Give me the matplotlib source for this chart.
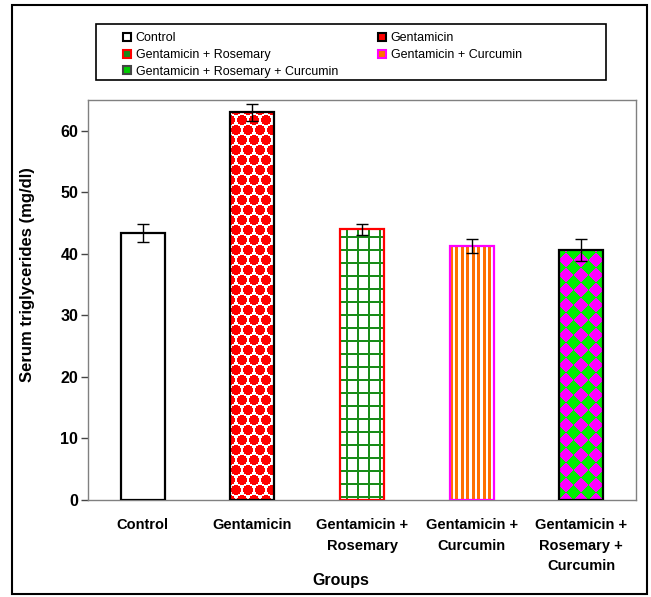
import matplotlib
matplotlib.use("Agg")
import matplotlib.pyplot as plt
from matplotlib.patches import Patch, Rectangle
import numpy as np

groups = ["Control", "Gentamicin", "Gentamicin + Rosemary",
          "Gentamicin + Curcumin", "Gentamicin + Rosemary + Curcumin"]
tick_labels = ["Control", "Gentamicin", "Gentamicin +\nRosemary",
               "Gentamicin +\nCurcumin", "Gentamicin +\nRosemary +\nCurcumin"]
means = [43.4, 63.0, 44.0, 41.3, 40.6]
errors = [1.4, 1.4, 0.9, 1.1, 1.8]

plt.rcParams["font.family"] = ["Liberation Sans", "DejaVu Sans"]

RED = np.array([1.0, 0.0, 0.0])
WHITE = np.array([1.0, 1.0, 1.0])
MAGENTA = np.array([1.0, 0.0, 1.0])
GREEN = np.array([0.0, 0.93, 0.0])
DKGREEN = np.array([0.1, 0.55, 0.1])
ORANGE = np.array([1.0, 0.44, 0.0])


def balls(px, py):
    # red discs on a staggered lattice
    d1 = (np.mod(px, 12) - 6) ** 2 + (np.mod(py, 20) - 10) ** 2
    d2 = (np.mod(px + 6, 12) - 6) ** 2 + (np.mod(py + 10, 20) - 10) ** 2
    inside = (np.minimum(d1, d2) <= 26)[..., None]
    return np.where(inside, RED, WHITE)


def grid(px, py):
    on = (np.mod(px - 6, 11) < 2) | (np.mod(py - 2, 13) < 2)
    return np.where(on[..., None], DKGREEN, WHITE)


def stripes(px, py):
    on = np.mod(px, 5.5) < 3
    return np.where(on[..., None], ORANGE, WHITE)


def diamonds(px, py):
    s = 15.0
    k = (np.floor((px + py) / s) + np.floor((px - py) / s)) % 2
    return np.where((k == 0)[..., None], MAGENTA, GREEN)


# edge colour and fill texture of each bar
edges = ["black", "black", "#ff0000", "#ff00ff", "black"]
textures = [None, balls, grid, stripes, diamonds]

W, H = 651, 597
fig = plt.figure(figsize=(W / 100, H / 100), dpi=100)
ax = fig.add_axes([88 / W, 1 - 500 / H, 548 / W, 400 / H])
ax.set_xlim(-0.5, 4.5)
ax.set_ylim(0, 65)

x = np.arange(len(groups))
bw = 0.4
for i in range(len(groups)):
    bars = ax.bar(x[i], means[i], width=bw, color="white", linewidth=0, zorder=2)
    tex = textures[i]
    if tex is not None:
        (x0, y0) = ax.transData.transform((x[i] - bw / 2, 0))
        (x1, y1) = ax.transData.transform((x[i] + bw / 2, means[i]))
        w, h = int(round(x1 - x0)), int(round(y1 - y0))
        px, py = np.meshgrid(np.arange(w) + 0.5, np.arange(h) + 0.5)
        img = ax.imshow(tex(px, py), extent=(x[i] - bw / 2, x[i] + bw / 2, 0, means[i]),
                        origin="lower", interpolation="nearest", aspect="auto",
                        zorder=2.5)
        img.set_clip_path(bars[0])
    ax.bar(x[i], means[i], width=bw, fill=False, edgecolor=edges[i],
           linewidth=1.6, zorder=3)

ax.errorbar(x, means, yerr=errors, fmt="none", ecolor="black",
            elinewidth=1, capsize=4, capthick=1, zorder=4)

ax.set_xlim(-0.5, 4.5)
ax.set_ylim(0, 65)
ax.set_yticks(range(0, 61, 10))
ax.set_xticks(x)
ax.set_xticklabels(tick_labels, fontweight="bold", fontsize=10.5,
                   linespacing=1.6)
for lab in ax.get_yticklabels():
    lab.set_fontweight("bold")
    lab.set_fontsize(11.5)
ax.tick_params(axis="y", length=5, width=1, color="#444444", pad=2)
ax.tick_params(axis="x", length=0, pad=13)
for sp in ax.spines.values():
    sp.set_color("#808080")
    sp.set_linewidth(1)

ax.set_ylabel("Serum triglycerides (mg/dl)", fontweight="bold", fontsize=12)
ax.yaxis.set_label_coords(-53 / 548, 0.5625)
fig.text(341 / W, 1 - 580 / H, "Groups", ha="center", va="center",
         fontweight="bold", fontsize=11.5)

# legend: two columns, filled row by row
order = [0, 2, 4, 1, 3]
leg_colors = [("white", "black"), ("#ff0000", "black"), ("#1a8a1a", "#ff0000"),
              ("#ff7000", "#ff00ff"), ("#00cc00", "#444444")]
handles = [Patch(facecolor=leg_colors[k][0], edgecolor=leg_colors[k][1],
                 linewidth=1.5) for k in order]
fig.legend(handles, [groups[k] for k in order], ncol=2, loc="upper left",
           bbox_to_anchor=(112 / W, 1 - 21 / H), frameon=False,
           fontsize=9, handlelength=0.6, handleheight=0.6, handletextpad=0.4,
           columnspacing=3.2, labelspacing=0.38, borderpad=0.4)

fig.patches.append(Rectangle((96 / W, 1 - 80 / H), 510 / W, 56 / H,
                             transform=fig.transFigure, fill=False,
                             edgecolor="black", linewidth=1.2))
fig.patches.append(Rectangle((12 / W, 1 - 594 / H), 635 / W, 589 / H,
                             transform=fig.transFigure, fill=False,
                             edgecolor="black", linewidth=1.5))

fig.savefig("out.png", dpi=100)
